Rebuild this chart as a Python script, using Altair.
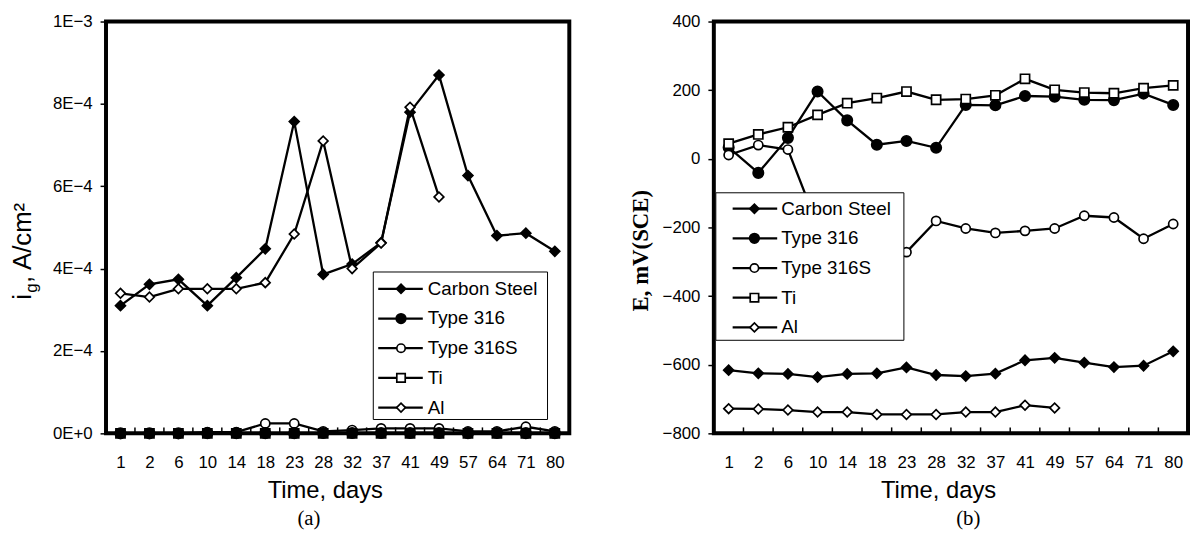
import altair as alt
import pandas as pd

days = ["1", "2", "6", "10", "14", "18", "23", "28", "32", "37", "41", "49", "57", "64", "71", "80"]
series = ["Carbon Steel", "Type 316", "Type 316S", "Ti", "Al"]

# Panel (a): galvanic current density, A/cm2
ig_carbon = [3.10e-4, 3.62e-4, 3.74e-4, 3.10e-4, 3.78e-4, 4.48e-4, 7.57e-4, 3.86e-4, 4.11e-4, 4.63e-4, 7.80e-4, 8.70e-4, 6.26e-4, 4.80e-4, 4.86e-4, 4.42e-4]
ig_316 = [0.0, 0.0, 0.0, 0.05e-5, 0.05e-5, 0.05e-5, 0.05e-5, 0.08e-5, 0.08e-5, 0.08e-5, 0.08e-5, 0.08e-5, 0.05e-5, 0.08e-5, 0.05e-5, 0.05e-5]
ig_316s = [0.0, 0.0, 0.0, 0.3e-5, 0.3e-5, 2.4e-5, 2.4e-5, 0.5e-5, 0.8e-5, 1.2e-5, 1.2e-5, 1.2e-5, 0.5e-5, 0.5e-5, 1.6e-5, 0.5e-5]
ig_ti = [0.0, 0.0, 0.0, 0.0, 0.0, 0.0, 0.0, 0.0, 0.0, 0.0, 0.0, 0.0, 0.0, 0.0, 0.0, 0.0]
ig_al = [3.40e-4, 3.31e-4, 3.51e-4, 3.51e-4, 3.51e-4, 3.66e-4, 4.84e-4, 7.10e-4, 4.00e-4, 4.62e-4, 7.92e-4, 5.74e-4, None, None, None, None]

# Panel (b): potential, mV(SCE)
e_carbon = [-616, -625, -627, -636, -627, -625, -608, -630, -633, -626, -587, -580, -594, -607, -603, -561]
e_316 = [33, -41, 61, 196, 112, 41, 52, 32, 157, 156, 183, 181, 172, 171, 190, 157]
e_316s = [11, 40, 27, -195, -235, -255, -272, -181, -203, -216, -210, -203, -166, -171, -233, -190]
e_ti = [44, 71, 92, 128, 162, 177, 196, 172, 174, 185, 233, 201, 193, 191, 206, 214]
e_al = [-728, -729, -732, -738, -738, -745, -745, -745, -738, -738, -718, -726, None, None, None, None]

styles = {
    "Carbon Steel": dict(shape="diamond", fill="black", size=100),
    "Type 316": dict(shape="circle", fill="black", size=110),
    "Type 316S": dict(shape="circle", fill="white", size=85),
    "Ti": dict(shape="square", fill="white", size=85),
    "Al": dict(shape="diamond", fill="white", size=95),
}

FONT = "Liberation Sans"
SERIF = "Liberation Serif"


def long_df(cols):
    rows = []
    for name, vals in zip(series, cols):
        for d, v in zip(days, vals):
            if v is not None:
                rows.append({"day": d, "series": name, "value": v})
    return pd.DataFrame(rows)


dummy = pd.DataFrame({"k": [0]})


def panel(df, W, H, ydomain, yvalues, yaxis, draw_order, legend_box, legend_y0, legend_step, legend_x,
          sub_label, sub_xy, extra):
    xenc = alt.X(
        "day:N", sort=days,
        scale=alt.Scale(type="point", domain=days, padding=0.5),
        axis=alt.Axis(title="Time, days", ticks=False, domain=False, labelAngle=0, labelPadding=21,
                      titleFontSize=24, titleFontWeight="normal", titleFont=FONT,
                      titleY=58, titleBaseline="middle", titleX=W / 2 - 13),
    )
    yenc = alt.Y("value:Q", scale=alt.Scale(domain=ydomain, nice=False, zero=False),
                 axis=alt.Axis(values=yvalues, **yaxis))
    layers = []
    layers.append(alt.Chart(df).mark_line(color="black", strokeWidth=2.3).encode(x=xenc, y=yenc, detail="series:N"))
    for name in draw_order:
        st = styles[name]
        layers.append(
            alt.Chart(df).transform_filter(alt.datum.series == name)
            .mark_point(shape=st["shape"], size=st["size"], filled=True, fill=st["fill"],
                        stroke="black", strokeWidth=1.7, opacity=1)
            .encode(x=xenc, y=yenc)
        )
    tick_df = pd.DataFrame({"day": days[1:]})
    layers.append(
        alt.Chart(tick_df).mark_rule(color="black", strokeWidth=1.5, xOffset=-W / 32)
        .encode(x=xenc, y=alt.value(H), y2=alt.value(H - 6))
    )
    # legend box
    bx0, bx1, by0, by1 = legend_box
    layers.append(
        alt.Chart(dummy).mark_rect(fill="white", stroke="black", strokeWidth=1)
        .encode(x=alt.value(bx0), x2=alt.value(bx1), y=alt.value(by0), y2=alt.value(by1))
    )
    lx0, lx1, sx, tx = legend_x
    for i, name in enumerate(series):
        st = styles[name]
        ry = legend_y0 + i * legend_step
        layers.append(alt.Chart(dummy).mark_rule(color="black", strokeWidth=2.3)
                      .encode(x=alt.value(lx0), x2=alt.value(lx1), y=alt.value(ry)))
        layers.append(alt.Chart(dummy).mark_point(shape=st["shape"], size=st["size"] * 0.85, filled=True,
                                                  fill=st["fill"], stroke="black", strokeWidth=1.7, opacity=1)
                      .encode(x=alt.value(sx), y=alt.value(ry)))
        layers.append(alt.Chart(dummy).mark_text(align="left", baseline="middle", fontSize=19, font=FONT, color="black")
                      .encode(x=alt.value(tx), y=alt.value(ry), text=alt.value(name)))
    layers.append(alt.Chart(dummy).mark_text(font=SERIF, fontSize=21, color="black", baseline="middle")
                  .encode(x=alt.value(sub_xy[0]), y=alt.value(sub_xy[1]), text=alt.value(sub_label)))
    layers.extend(extra)
    return alt.layer(*layers).properties(width=W, height=H)


WA, HA = 468, 416
WB, HB = 479, 416

df_a = long_df([ig_carbon, ig_316, ig_316s, ig_ti, ig_al])
df_b = long_df([e_carbon, e_316, e_316s, e_ti, e_al])

# manual y title for panel (a): i_g, A/cm²
title_a = [
    alt.Chart(dummy).mark_text(angle=270, align="left", baseline="alphabetic", fontSize=26, font=FONT, color="black")
    .encode(x=alt.value(-76), y=alt.value(281), text=alt.value("i")),
    alt.Chart(dummy).mark_text(angle=270, align="left", baseline="alphabetic", fontSize=17, font=FONT, color="black")
    .encode(x=alt.value(-70), y=alt.value(274), text=alt.value("g")),
    alt.Chart(dummy).mark_text(angle=270, align="left", baseline="alphabetic", fontSize=26, font=FONT, color="black")
    .encode(x=alt.value(-76), y=alt.value(264), text=alt.value(", A/cm²")),
]

yaxis_a = dict(
    title=None, domain=False, grid=False, tickSize=6, tickWidth=1.5, labelPadding=8,
    labelExpr="replace(replace(format(datum.value, '.0e'), 'e', 'E'), '-', '\u2212')",
)
yaxis_b = dict(
    title="E, mV(SCE)", domain=False, grid=False, tickSize=6, tickWidth=1.5, labelPadding=8,
    titleFont=SERIF, titleFontWeight="bold", titleFontSize=23, titleAngle=270, titleY=231, titlePadding=10,
)

order_a = ["Carbon Steel", "Type 316S", "Ti", "Type 316", "Al"]
order_b = ["Carbon Steel", "Type 316", "Type 316S", "Ti", "Al"]

panel_a = panel(df_a, WA, HA, [0, 0.001], [0, 0.0002, 0.0004, 0.0006, 0.0008, 0.001], yaxis_a, order_a,
                (270, 446, 253, 402), 270, 30, (275, 320, 298, 325), "(a)", (205, 503), title_a)
panel_b = panel(df_b, WB, HB, [-800, 400], [-800, -600, -400, -200, 0, 200, 400], yaxis_b, order_b,
                (2, 192, 173, 322), 189, 30, (19, 64, 41, 68), "(b)", (257, 503), [])

chart = (
    alt.hconcat(panel_a, panel_b, spacing=56)
    .properties(padding={"left": 0, "top": 0, "right": 0, "bottom": 0})
    .configure_view(stroke="black", strokeWidth=4)
    .configure_axis(labelFont=FONT, labelFontSize=17, labelColor="black", tickColor="black", titleColor="black")
)

chart.save("out.html", embed_options={"renderer": "svg", "actions": False})
